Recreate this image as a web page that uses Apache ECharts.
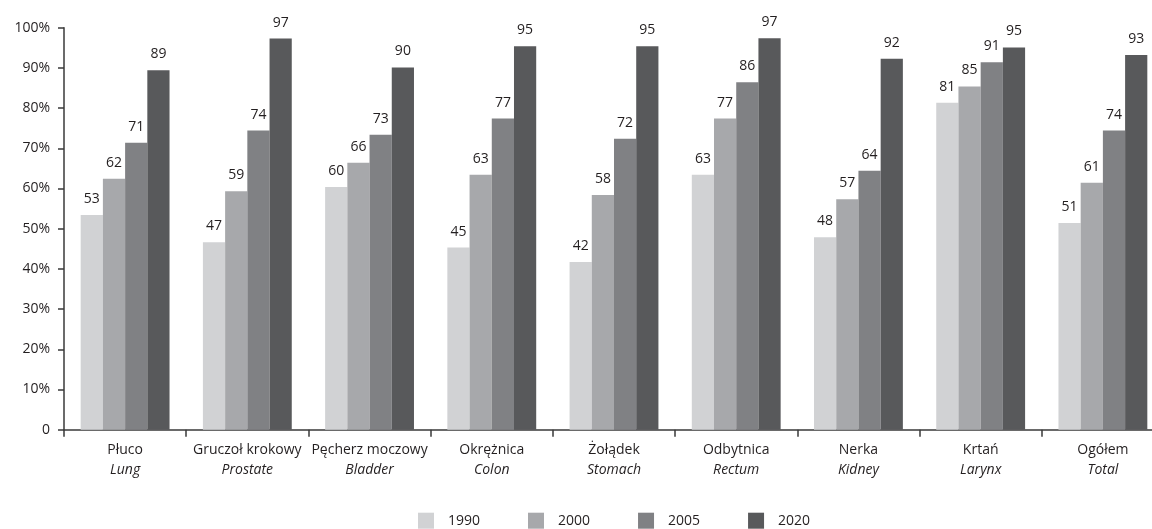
<!DOCTYPE html>
<html>
<head>
<meta charset="utf-8">
<script src="https://cdn.jsdelivr.net/npm/echarts@6/dist/echarts.min.js"></script>
<style>
html,body{margin:0;padding:0;background:#fff;overflow:hidden;width:1152px;height:529px;}
#c{width:1164px;height:529px;}
</style>
</head>
<body>
<div id="c"></div>
<script>
var categoriesPL = ['Płuco','Gruczoł krokowy','Pęcherz moczowy','Okrężnica','Żołądek','Odbytnica','Nerka','Krtań','Ogółem'];
var categoriesEN = ['Lung','Prostate','Bladder','Colon','Stomach','Rectum','Kidney','Larynx','Total'];
var years = ['1990','2000','2005','2020'];
var v1990 = [53.4, 46.6, 60.4, 45.3, 41.7, 63.4, 47.9, 81.3, 51.4];
var v2000 = [62.4, 59.3, 66.4, 63.4, 58.4, 77.4, 57.3, 85.4, 61.4];
var v2005 = [71.4, 74.4, 73.4, 77.4, 72.4, 86.4, 64.4, 91.4, 74.4];
var v2020 = [89.4, 97.3, 90.1, 95.4, 95.4, 97.4, 92.3, 95.1, 93.2];
var yTicks = [0,10,20,30,40,50,60,70,80,90,100];
var colors = ['#d1d2d4','#a7a8ab','#808184','#58595b'];

var FONT = 'Open Sans';
var TXT = '#231f20';
var categories = categoriesPL.map(function(p,i){ return p + '\n' + categoriesEN[i]; });
var seriesData = [v1990, v2000, v2005, v2020];

var chart = echarts.init(document.getElementById('c'), null, {renderer:'canvas'});
chart.setOption({
  animation: false,
  backgroundColor: '#ffffff',
  textStyle: {fontFamily: FONT, color: TXT},
  grid: {left: 64, top: 27.7, bottom: 99.3, right: 0, containLabel: false},
  legend: {
    data: years,
    left: 413, top: 507.7,
    padding: 5,
    itemWidth: 16, itemHeight: 16, itemGap: 48,
    icon: 'rect',
    textStyle: {fontFamily: FONT, fontSize: 14, color: TXT, padding: [0,0,0,9]}
  },
  xAxis: {
    type: 'category',
    data: categories,
    axisLine: {show: true, lineStyle: {color: '#3a3a3a', width: 1.5}},
    axisTick: {show: true, interval: 0, length: 7, lineStyle: {color: '#3a3a3a', width: 1.5}},
    axisLabel: {
      interval: 0, margin: 10,
      formatter: function(v){ var p = v.split('\n'); return '{a|' + p[0] + '}\n{b|' + p[1] + '}'; },
      rich: {
        a: {fontFamily: FONT, fontSize: 14, color: TXT, lineHeight: 20},
        b: {fontFamily: FONT, fontSize: 14, fontStyle: 'italic', color: TXT, lineHeight: 20}
      }
    }
  },
  yAxis: {
    type: 'value', min: yTicks[0], max: yTicks[yTicks.length-1], interval: 10,
    axisLine: {show: true, lineStyle: {color: '#3a3a3a', width: 1.5}},
    axisTick: {show: true, length: 6, lineStyle: {color: '#3a3a3a', width: 1.5}},
    splitLine: {show: false},
    axisLabel: {
      fontFamily: FONT, fontSize: 14, color: TXT, margin: 14,
      formatter: function(v){ return v === 0 ? '0' : v + '%'; }
    }
  },
  series: seriesData.map(function(d, i){
    return {
      name: years[i], type: 'bar', data: d,
      barGap: '0%', barCategoryGap: '27.3%',
      itemStyle: {color: colors[i]},
      label: {
        show: true, position: 'top', distance: 9,
        fontFamily: FONT, fontSize: 14, color: TXT,
        formatter: function(p){ return Math.round(p.value); }
      }
    };
  })
});
</script>
</body>
</html>
